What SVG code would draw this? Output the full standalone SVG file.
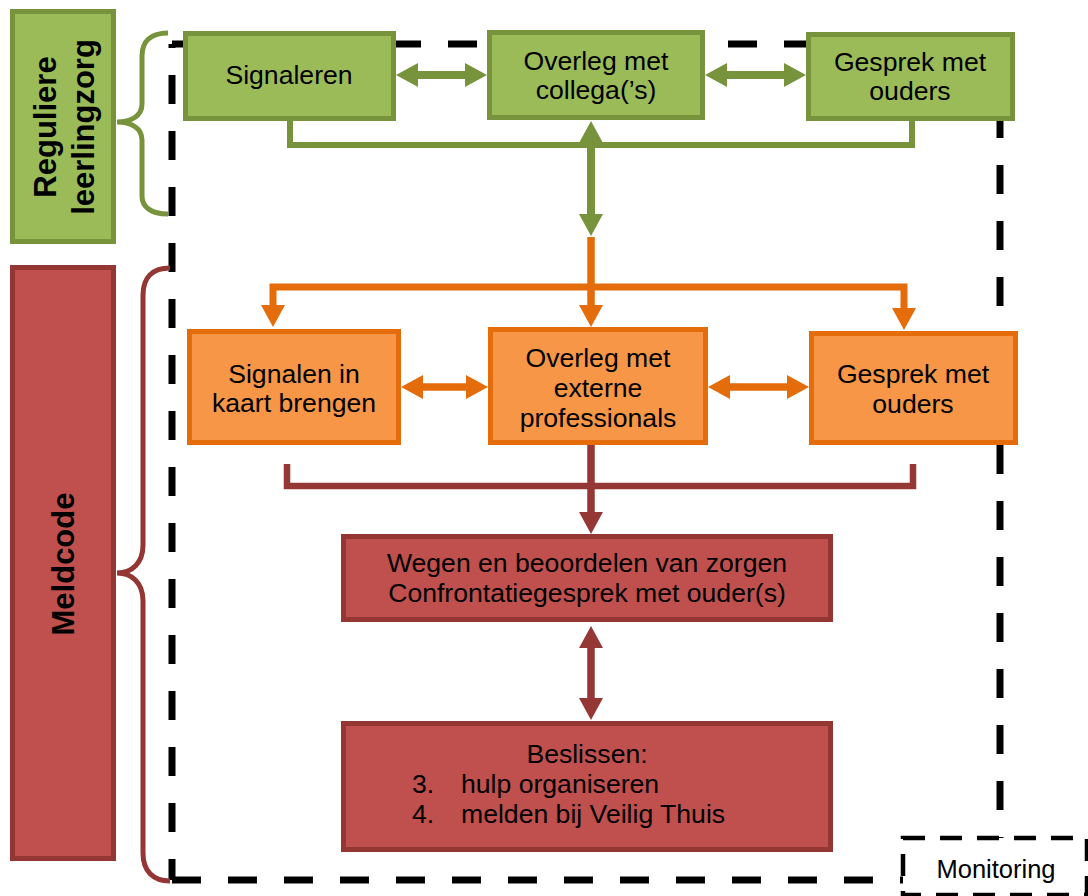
<svg xmlns="http://www.w3.org/2000/svg" width="1088" height="896" viewBox="0 0 1088 896">
<style>
.txt{font-family:"Liberation Sans",Arial,sans-serif;font-size:26.6px;fill:#000;text-anchor:middle}
.lbl{font-family:"Liberation Sans",Arial,sans-serif;font-size:31px;font-weight:bold;fill:#000;text-anchor:middle}
.g{fill:#9BBB59;stroke:#77933C;stroke-width:5}
.o{fill:#F79646;stroke:#E46C0A;stroke-width:5}
.r{fill:#C0504D;stroke:#943634;stroke-width:5}
.dash{fill:none;stroke:#000;stroke-width:7;stroke-dasharray:29 27}
.cg{fill:none;stroke:#77933C;stroke-width:8}
.co{fill:none;stroke:#E46C0A;stroke-width:7.5}
.cr{fill:none;stroke:#953735;stroke-width:7.5}
.bg{fill:none;stroke:#77933C;stroke-width:6}
.bo{fill:none;stroke:#E46C0A;stroke-width:7}
.br{fill:none;stroke:#953735;stroke-width:6.5}
</style>
<defs>
<marker id="ag" viewBox="0 0 22 24" markerWidth="22" markerHeight="24" refX="2" refY="12" orient="auto-start-reverse" markerUnits="userSpaceOnUse"><path d="M0,0 L22,12 L0,24 Z" fill="#77933C"/></marker>
<marker id="ao" viewBox="0 0 22 24" markerWidth="22" markerHeight="24" refX="2" refY="12" orient="auto-start-reverse" markerUnits="userSpaceOnUse"><path d="M0,0 L22,12 L0,24 Z" fill="#E46C0A"/></marker>
<marker id="ar" viewBox="0 0 22 24" markerWidth="22" markerHeight="24" refX="2" refY="12" orient="auto-start-reverse" markerUnits="userSpaceOnUse"><path d="M0,0 L22,12 L0,24 Z" fill="#953735"/></marker>
</defs>
<rect width="1088" height="896" fill="#fff"/>
<g id="border">
<path class="dash" d="M172,44 V880" stroke-dashoffset="25"/>
<path class="dash" d="M172,880 H1000" stroke-dashoffset="0"/>
<path class="dash" d="M1000,44 V880" stroke-dashoffset="47"/>
<path class="dash" d="M172,44 H1000" stroke-dashoffset="4"/>
</g>
<g id="braces">
<path d="M168,33 C151,33 142,41 142,56 V104 C142,116 131,122 117,122 C131,122 142,128 142,140 V196 C142,207 151,214 168,214" fill="none" stroke="#77933C" stroke-width="5"/>
<path d="M170,268 C153,268 143,277 143,295 V545 C143,563 132,573 117,573 C132,573 143,583 143,601 V853 C143,871 153,881 170,881" fill="none" stroke="#943634" stroke-width="5"/>
</g>
<g id="connectors">
<line class="cg" x1="416" y1="75" x2="467" y2="75" marker-start="url(#ag)" marker-end="url(#ag)"/>
<line class="cg" x1="725" y1="75" x2="786" y2="75" marker-start="url(#ag)" marker-end="url(#ag)"/>
<path class="bg" d="M290,121 V145 H912 V121"/>
<line class="cg" x1="591" y1="141" x2="591" y2="216" marker-start="url(#ag)" marker-end="url(#ag)"/>
<line class="co" x1="591" y1="237" x2="591" y2="307" marker-end="url(#ao)"/>
<path class="bo" d="M273,307 V287 H904 V310" marker-start="url(#ao)" marker-end="url(#ao)"/>
<line class="co" x1="421" y1="387" x2="468" y2="387" marker-start="url(#ao)" marker-end="url(#ao)"/>
<line class="co" x1="728" y1="387" x2="789" y2="387" marker-start="url(#ao)" marker-end="url(#ao)"/>
<path class="br" d="M287,464 V486 H913 V464"/>
<line class="cr" x1="591" y1="445" x2="591" y2="514" marker-end="url(#ar)"/>
<line class="cr" x1="591" y1="646" x2="591" y2="700" marker-start="url(#ar)" marker-end="url(#ar)"/>
</g>
<g id="label-regulier">
<rect class="g" x="12.5" y="11.5" width="101" height="230"/>
<text class="lbl" transform="rotate(-90 56 127)" x="56" y="127">Reguliere</text>
<text class="lbl" transform="rotate(-90 94 127)" x="94" y="127">leerlingzorg</text>
</g>
<g id="label-meldcode">
<rect class="r" x="12.5" y="267.5" width="101" height="591"/>
<text class="lbl" transform="rotate(-90 74 564)" x="74" y="564">Meldcode</text>
</g>
<g id="signaleren">
<rect class="g" x="185.5" y="33.5" width="208" height="85"/>
<text class="txt" x="289" y="84">Signaleren</text>
</g>
<g id="overleg-collega">
<rect class="g" x="489.5" y="32.5" width="213" height="85"/>
<text class="txt" x="596" y="70">Overleg met</text>
<text class="txt" x="596" y="99">collega(’s)</text>
</g>
<g id="gesprek-ouders-1">
<rect class="g" x="808.5" y="34.5" width="204" height="84"/>
<text class="txt" x="910" y="71">Gesprek met</text>
<text class="txt" x="910" y="100">ouders</text>
</g>
<g id="signalen-kaart">
<rect class="o" x="189.5" y="331.5" width="209" height="111"/>
<text class="txt" x="294" y="383">Signalen in</text>
<text class="txt" x="294" y="412">kaart brengen</text>
</g>
<g id="overleg-extern">
<rect class="o" x="490.5" y="329.5" width="215" height="113"/>
<text class="txt" x="598" y="367">Overleg met</text>
<text class="txt" x="598" y="397">externe</text>
<text class="txt" x="598" y="427">professionals</text>
</g>
<g id="gesprek-ouders-2">
<rect class="o" x="811.5" y="333.5" width="204" height="109"/>
<text class="txt" x="913" y="383">Gesprek met</text>
<text class="txt" x="913" y="413">ouders</text>
</g>
<g id="wegen">
<rect class="r" x="343.5" y="536.5" width="487" height="83"/>
<text class="txt" x="587" y="572">Wegen en beoordelen van zorgen</text>
<text class="txt" x="587" y="602">Confrontatiegesprek met ouder(s)</text>
</g>
<g id="beslissen">
<rect class="r" x="343.5" y="723.5" width="487" height="126"/>
<text class="txt" x="587" y="763">Beslissen:</text>
<text class="txt" x="412" y="793" style="text-anchor:start">3.</text>
<text class="txt" x="461" y="793" style="text-anchor:start">hulp organiseren</text>
<text class="txt" x="412" y="823" style="text-anchor:start">4.</text>
<text class="txt" x="461" y="823" style="text-anchor:start">melden bij Veilig Thuis</text>
</g>
<g id="monitoring">
<rect x="903" y="838" width="184" height="57" fill="#fff" stroke="#000" stroke-width="4.5" stroke-dasharray="22 15"/>
<text class="txt" x="996" y="878" style="font-size:25.5px">Monitoring</text>
</g>
</svg>
